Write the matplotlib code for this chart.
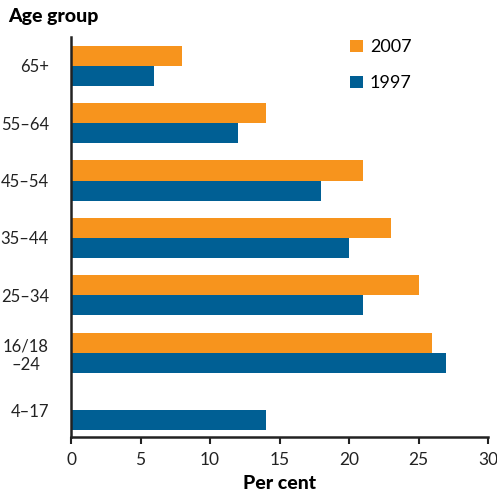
import matplotlib.pyplot as plt
import numpy as np

plt.rcParams["font.family"] = ["Lato", "DejaVu Sans"]

age_groups = ["65+", "55–64", "45–54", "35–44", "25–34", "16/18\n–24", "4–17"]
values_2007 = [8, 14, 21, 23, 25, 26, np.nan]
values_1997 = [6, 12, 18, 20, 21, 27, 14]

orange = "#f7941d"
blue = "#005f94"

fig = plt.figure(figsize=(4.97, 4.98), dpi=100)
ax = fig.add_axes([0.143, 0.1225, 0.839, 0.803])

y = np.arange(len(age_groups))[::-1]
h = 0.35
ax.barh(y + h / 2, values_2007, height=h, color=orange, label="2007")
ax.barh(y - h / 2, values_1997, height=h, color=blue, label="1997")

ax.set_xlim(0, 30)
ax.set_ylim(-0.47, 6.5)
ax.set_xticks(range(0, 31, 5))
ax.set_yticks(y)
ax.set_yticklabels(age_groups, multialignment="center")
ax.tick_params(axis="y", length=0, pad=16, labelsize=12, colors="#222222")
ax.tick_params(axis="x", direction="out", length=5, width=1.5, pad=6,
               labelsize=12.5, colors="#222222")

for s in ["top", "right"]:
    ax.spines[s].set_visible(False)
for s in ["left", "bottom"]:
    ax.spines[s].set_linewidth(1.8)
    ax.spines[s].set_color("#222222")

ax.set_xlabel("Per cent", fontsize=14, fontweight="black", labelpad=5)
fig.text(0.016, 0.967, "Age group", fontsize=14, fontweight="black",
         ha="left", va="center")

ax.legend(loc="upper left", bbox_to_anchor=(0.63, 1.035), frameon=False,
          handlelength=0.7, handleheight=0.7, handletextpad=0.4,
          labelspacing=1.1, fontsize=13)

fig.savefig("out.png", dpi=100)
